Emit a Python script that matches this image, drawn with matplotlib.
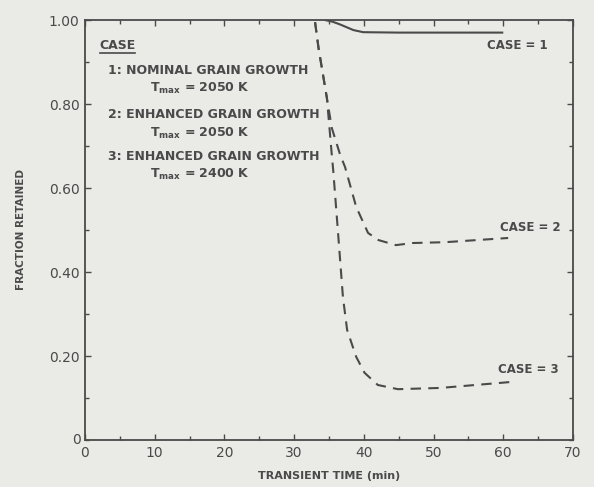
import matplotlib
matplotlib.use("Agg")
import matplotlib.pyplot as plt
from matplotlib.ticker import MultipleLocator, FixedLocator, FixedFormatter

# ---- data ----
case1_t = [34.4, 35.5, 36.5, 37.5, 38.5, 39.9, 45.0, 60.0]
case1_f = [1.000, 0.996, 0.990, 0.983, 0.976, 0.971, 0.970, 0.970]

case2_t = [33.0, 33.5, 34.7, 35.4, 36.6, 37.3, 38.9, 40.6, 42.1, 44.6, 47.0, 51.7, 60.7]
case2_f = [0.995, 0.933, 0.814, 0.743, 0.679, 0.650, 0.555, 0.493, 0.476, 0.464, 0.469, 0.471, 0.481]

case3_t = [33.0, 33.5, 34.7, 35.4, 35.6, 36.3, 37.0, 37.6, 38.9, 40.1, 42.0, 44.9, 51.0, 61.0]
case3_f = [0.995, 0.933, 0.814, 0.679, 0.643, 0.493, 0.340, 0.262, 0.198, 0.160, 0.131, 0.121, 0.124, 0.138]

x_ticks = [0, 10, 20, 30, 40, 50, 60, 70]
x_ticklabels = ["0", "10", "20", "30", "40", "50", "60", "70"]
y_ticks = [0.2, 0.4, 0.6, 0.8, 1.0]
y_ticklabels = ["0.20", "0.40", "0.60", "0.80", "1.00"]

legend_lines = [
    ("1: NOMINAL GRAIN GROWTH", r"T$_{\mathregular{max}}$ = 2050 K"),
    ("2: ENHANCED GRAIN GROWTH", r"T$_{\mathregular{max}}$ = 2050 K"),
    ("3: ENHANCED GRAIN GROWTH", r"T$_{\mathregular{max}}$ = 2400 K"),
]
case_labels = ["CASE = 1", "CASE = 2", "CASE = 3"]

bg = "#eaeae7"
ink = "#4a4a4a"

plt.rcParams["font.family"] = ["DejaVu Sans"]
fig = plt.figure(figsize=(5.94, 4.87), dpi=100, facecolor=bg)
ax = fig.add_axes([85 / 594, 47 / 487, 488 / 594, 420 / 487], facecolor=bg)

ax.plot(case1_t, case1_f, color=ink, lw=1.5, solid_capstyle="butt")
ax.plot(case2_t, case2_f, color=ink, lw=1.5, dashes=(5, 3.5))
ax.plot(case3_t, case3_f, color=ink, lw=1.5, dashes=(5, 3.5))

ax.set_xlim(0, 70)
ax.set_ylim(0, 1.0)
ax.xaxis.set_major_locator(FixedLocator(x_ticks))
ax.xaxis.set_major_formatter(FixedFormatter(x_ticklabels))
ax.yaxis.set_major_locator(FixedLocator(y_ticks))
ax.yaxis.set_major_formatter(FixedFormatter(y_ticklabels))
ax.xaxis.set_minor_locator(MultipleLocator(5))
ax.yaxis.set_minor_locator(MultipleLocator(0.1))
ax.tick_params(which="both", direction="in", top=True, right=True,
               color=ink, width=1.0, labelcolor=ink, labelsize=10)
ax.tick_params(which="major", length=4, pad=4)
ax.tick_params(which="minor", length=3)
for s in ax.spines.values():
    s.set_color(ink)
    s.set_linewidth(1.3)

# origin label on the y axis
ax.text(-0.6, 0.0, "0", ha="right", va="center", color=ink, fontsize=10)

ax.set_xlabel("TRANSIENT TIME (min)", color=ink, fontsize=8, fontweight="bold", labelpad=8)
ax.set_ylabel("FRACTION RETAINED", color=ink, fontsize=7.5, fontweight="bold", labelpad=16)

# legend block
ax.text(2.1, 0.94, "CASE", color=ink, fontsize=9, fontweight="bold", va="center", ha="left")
ax.plot([2.1, 7.2], [0.922, 0.922], color=ink, lw=1.2)
ys = [(0.880, 0.838), (0.774, 0.731), (0.674, 0.633)]
for (l1, l2), (y1, y2) in zip(legend_lines, ys):
    ax.text(3.3, y1, l1, color=ink, fontsize=9, fontweight="bold", va="center", ha="left")
    ax.text(9.3, y2, l2, color=ink, fontsize=9, fontweight="bold", va="center", ha="left")

# curve labels
ax.text(57.6, 0.94, case_labels[0], color=ink, fontsize=8.5, fontweight="bold", va="center")
ax.text(59.6, 0.505, case_labels[1], color=ink, fontsize=8.5, fontweight="bold", va="center")
ax.text(59.3, 0.167, case_labels[2], color=ink, fontsize=8.5, fontweight="bold", va="center")

fig.savefig("out.png", dpi=100, facecolor=bg)
